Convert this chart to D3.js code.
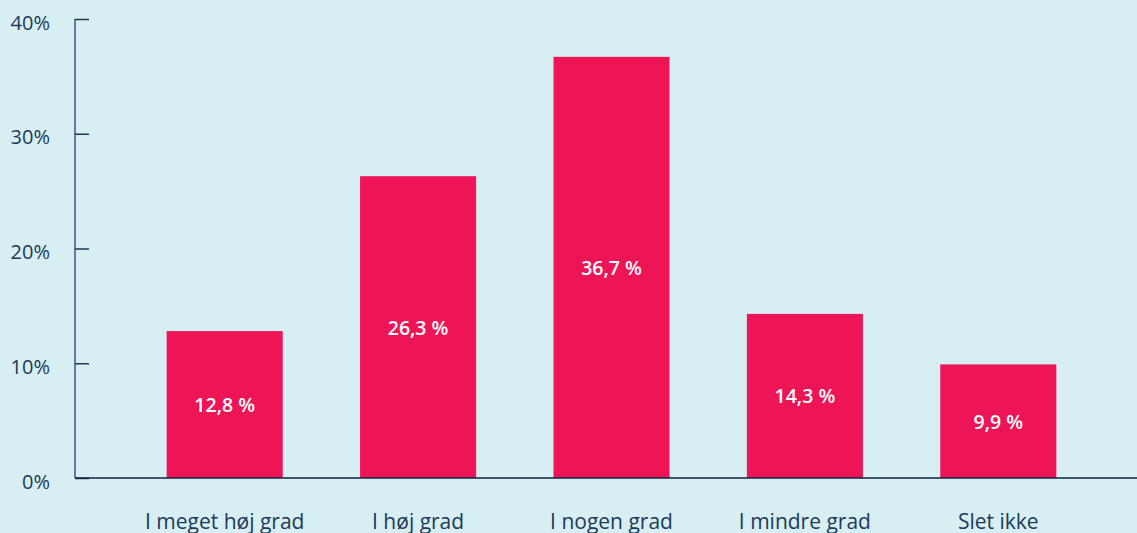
<!DOCTYPE html>
<html>
<head>
<meta charset="utf-8">
<script src="https://cdn.jsdelivr.net/npm/d3@7"></script>
<style>
  html, body { margin: 0; padding: 0; background: #d7eef2; overflow: hidden; }
  text { font-family: "Open Sans", "Noto Sans", sans-serif; }
</style>
</head>
<body>
<div id="chart-container"></div>
<script>
// chart size matches the window
const svgWidth = 1137;
const svgHeight = 533;

// data
const categories = ["I meget høj grad", "I høj grad", "I nogen grad", "I mindre grad", "Slet ikke"];
const values = [12.8, 26.3, 36.7, 14.3, 9.9];
const yTicks = [0, 10, 20, 30, 40];

const textColor = "#1c3a5a";
const barColor = "#ee1556";

const svg = d3.select("#chart-container")
    .append("svg")
    .attr("width", svgWidth)
    .attr("height", svgHeight);

const y = d3.scaleLinear()
    .domain([0, 40])
    .range([478, 19]);

const x = d3.scaleBand()
    .domain(categories)
    .range([128, 1095])
    .paddingInner(0.4)
    .paddingOuter(0.2);

// y axis, ticks point inward
const yAxis = svg.append("g")
    .attr("transform", "translate(75,0)")
    .call(d3.axisRight(y).tickValues(yTicks).tickSize(14).tickFormat(d => d + "%"));
yAxis.select(".domain").attr("stroke", "#3b5877").attr("stroke-width", 1.5)
    .attr("d", `M0,${y(40)}V${y(0)}`);
yAxis.selectAll(".tick line").attr("stroke", "#1c3a5a").attr("stroke-width", 1.5);
yAxis.selectAll(".tick text")
    .attr("x", -25)
    .attr("dy", "0.5em")
    .attr("text-anchor", "end")
    .attr("fill", textColor)
    .style("font-size", "20px");

// bars
svg.selectAll(".bar")
    .data(values)
    .enter()
    .append("rect")
    .attr("class", "bar")
    .attr("x", (d, i) => x(categories[i]))
    .attr("y", d => y(d))
    .attr("width", x.bandwidth())
    .attr("height", d => y(0) - y(d))
    .attr("fill", barColor);

// value labels in the middle of each bar
svg.selectAll(".barLabel")
    .data(values)
    .enter()
    .append("text")
    .attr("class", "barLabel")
    .attr("x", (d, i) => x(categories[i]) + x.bandwidth() / 2)
    .attr("y", d => (y(d) + y(0)) / 2)
    .attr("dy", "0.38em")
    .attr("text-anchor", "middle")
    .attr("fill", "#ffffff")
    .style("font-size", "19.5px")
    .style("font-weight", "600")
    .text(d => d.toFixed(1).replace(".", ",") + " %");

// x axis baseline
svg.append("line")
    .attr("x1", 75)
    .attr("x2", svgWidth)
    .attr("y1", y(0))
    .attr("y2", y(0))
    .attr("stroke", "#0c2340")
    .attr("stroke-width", 1.5);

// category labels (cut at the bottom edge, as in the original)
svg.selectAll(".catLabel")
    .data(categories)
    .enter()
    .append("text")
    .attr("class", "catLabel")
    .attr("x", d => x(d) + x.bandwidth() / 2)
    .attr("y", 529)
    .attr("text-anchor", "middle")
    .attr("fill", textColor)
    .style("font-size", "21px")
    .text(d => d);
</script>
</body>
</html>
